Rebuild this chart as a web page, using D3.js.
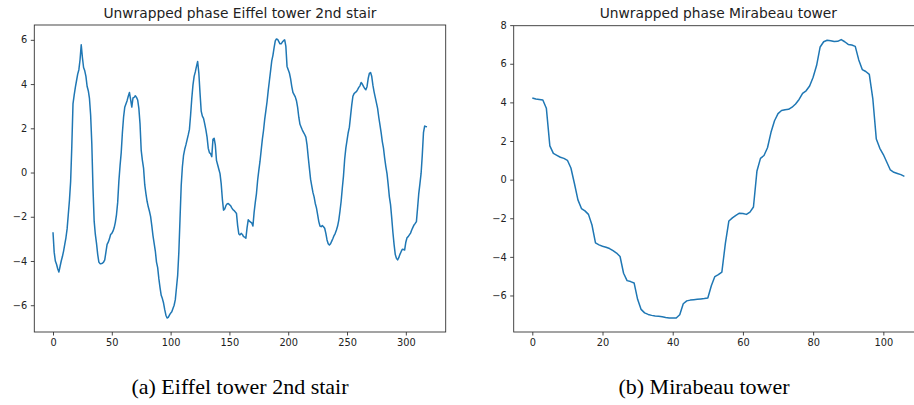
<!DOCTYPE html>
<html>
<head>
<meta charset="utf-8">
<script src="https://cdn.jsdelivr.net/npm/d3@7"></script>
<style>
  html, body { margin: 0; padding: 0; background: #fff; }
  svg { display: block; }
</style>
</head>
<body>
<svg id="fig" width="914" height="405"></svg>
<script>
// Unwrapped phase, Eiffel tower 2nd stair (one value per sample, 0..318)
const eiffelPhase = [
  -2.70, -3.60, -4.00, -4.15, -4.35, -4.50, -4.25, -4.00, -3.80, -3.55,
  -3.25, -2.95, -2.55, -1.90, -1.25, -0.40, 1.20, 3.10, 3.50, 3.85,
  4.15, 4.45, 4.65, 5.10, 5.78, 5.20, 4.75, 4.60, 4.35, 3.90,
  3.70, 3.35, 2.60, 1.30, -0.70, -2.20, -2.80, -3.20, -3.70, -4.05,
  -4.12, -4.12, -4.10, -4.05, -3.95, -3.60, -3.25, -3.15, -3.00, -2.80,
  -2.75, -2.65, -2.50, -2.25, -1.90, -1.35, -0.40, 0.30, 0.90, 1.80,
  2.50, 2.95, 3.10, 3.25, 3.45, 3.62, 3.30, 2.96, 3.37, 3.40,
  3.47, 3.40, 3.28, 2.90, 2.20, 1.00, 0.55, 0.20, -0.55, -0.95,
  -1.30, -1.55, -1.75, -1.99, -2.40, -2.85, -3.20, -3.55, -4.05, -4.30,
  -4.80, -5.20, -5.55, -5.70, -5.90, -6.20, -6.45, -6.58, -6.55, -6.45,
  -6.36, -6.30, -6.15, -6.00, -5.75, -5.20, -4.65, -3.60, -2.10, -0.60,
  0.25, 0.78, 1.05, 1.25, 1.48, 1.70, 1.95, 2.60, 3.35, 3.95,
  4.35, 4.55, 4.80, 5.02, 4.50, 3.60, 2.78, 2.55, 2.45, 2.20,
  1.93, 1.60, 1.10, 0.90, 0.85, 0.72, 1.50, 1.55, 1.25, 0.55,
  0.35, 0.15, -0.05, -0.50, -1.20, -1.70, -1.65, -1.50, -1.42, -1.40,
  -1.45, -1.50, -1.60, -1.68, -1.72, -1.78, -1.85, -2.40, -2.78, -2.82,
  -2.75, -2.80, -2.90, -2.92, -2.97, -2.50, -2.14, -2.20, -2.24, -2.28,
  -2.42, -1.80, -1.35, -0.95, -0.35, 0.10, 0.50, 1.00, 1.50, 1.90,
  2.40, 2.80, 3.20, 3.70, 4.15, 4.60, 5.05, 5.30, 5.65, 5.95,
  6.04, 6.02, 5.92, 5.82, 5.82, 5.90, 5.96, 6.00, 5.70, 4.80,
  4.65, 4.50, 4.25, 3.90, 3.62, 3.52, 3.42, 3.25, 2.95, 2.50,
  2.18, 2.05, 1.92, 1.82, 1.72, 1.60, 1.25, 0.70, 0.20, -0.30,
  -0.60, -0.90, -1.10, -1.40, -1.60, -1.90, -2.22, -2.42, -2.45, -2.40,
  -2.45, -2.52, -2.75, -3.05, -3.22, -3.28, -3.22, -3.10, -2.98, -2.85,
  -2.75, -2.60, -2.42, -2.15, -1.75, -1.30, -0.70, -0.15, 0.60, 1.10,
  1.45, 1.80, 2.05, 2.55, 3.05, 3.45, 3.57, 3.62, 3.66, 3.75,
  3.85, 3.92, 4.07, 4.00, 3.90, 3.80, 3.74, 3.88, 4.25, 4.48,
  4.52, 4.35, 3.95, 3.65, 3.40, 3.15, 2.90, 2.50, 2.15, 1.80,
  1.40, 1.10, 0.65, 0.27, -0.05, -0.55, -1.10, -1.45, -2.05, -2.70,
  -3.25, -3.70, -3.88, -3.95, -3.85, -3.70, -3.58, -3.47, -3.48, -3.50,
  -3.15, -2.95, -2.90, -2.82, -2.74, -2.60, -2.48, -2.37, -2.30, -2.22,
  -1.60, -0.95, -0.50, -0.03, 0.80, 1.80, 2.10, 2.08, 2.07
];

// Unwrapped phase, Mirabeau tower (one value per sample, 0..106)
const mirabeauPhase = [
  4.23, 4.18, 4.15, 4.12, 3.70, 1.75, 1.36, 1.26, 1.16, 1.10,
  1.00, 0.60, -0.20, -1.05, -1.50, -1.62, -1.80, -2.35, -3.28, -3.38,
  -3.45, -3.50, -3.57, -3.68, -3.80, -3.98, -4.85, -5.23, -5.28, -5.35,
  -6.20, -6.72, -6.90, -6.98, -7.03, -7.06, -7.08, -7.10, -7.14, -7.16,
  -7.17, -7.17, -7.00, -6.43, -6.28, -6.24, -6.22, -6.20, -6.18, -6.16,
  -6.13, -5.50, -5.02, -4.92, -4.79, -3.30, -2.14, -1.98, -1.85, -1.74,
  -1.75, -1.80, -1.68, -1.42, 0.45, 1.10, 1.25, 1.65, 2.45, 3.05,
  3.42, 3.58, 3.62, 3.64, 3.75, 3.92, 4.15, 4.47, 4.60, 4.85,
  5.30, 5.92, 6.87, 7.14, 7.22, 7.19, 7.15, 7.16, 7.25, 7.14,
  7.00, 6.97, 6.90, 6.20, 5.70, 5.60, 5.45, 4.20, 2.10, 1.62,
  1.30, 0.90, 0.50, 0.38, 0.32, 0.26, 0.17
];

// Tick values
const eiffelXTicks = [0, 50, 100, 150, 200, 250, 300];
const eiffelYTicks = [-6, -4, -2, 0, 2, 4, 6];
const mirabeauXTicks = [0, 20, 40, 60, 80, 100];
const mirabeauYTicks = [-6, -4, -2, 0, 2, 4, 6, 8];

// Titles and captions
const titles = ["Unwrapped phase Eiffel tower 2nd stair", "Unwrapped phase Mirabeau tower"];
const captions = ["(a) Eiffel tower 2nd stair", "(b) Mirabeau tower"];

const svg = d3.select("#fig");
const LINE = "#1f77b4";
const SANS = "'DejaVu Sans', sans-serif";

// Domain padded by 5% on each side, as in a default matplotlib autoscale
function padded(ext) {
  const m = (ext[1] - ext[0]) * 0.05;
  return [ext[0] - m, ext[1] + m];
}

function panel(opts) {
  const { left, top, width, height, values, xTicks, yTicks, title, caption, captionX } = opts;
  const g = svg.append("g");
  const x = d3.scaleLinear().domain(padded([0, values.length - 1])).range([left, left + width]);
  const y = d3.scaleLinear().domain(padded(d3.extent(values))).range([top + height, top]);

  const fmt = d => (d < 0 ? "\u2212" + Math.abs(d) : String(d));

  const xAxis = g.append("g")
    .attr("transform", `translate(0,${top + height})`)
    .call(d3.axisBottom(x).tickValues(xTicks).tickSize(3.5).tickPadding(3.5).tickSizeOuter(0).tickFormat(fmt));
  const yAxis = g.append("g")
    .attr("transform", `translate(${left},0)`)
    .call(d3.axisLeft(y).tickValues(yTicks).tickSize(3.5).tickPadding(3.5).tickSizeOuter(0).tickFormat(fmt));

  [xAxis, yAxis].forEach(a => {
    a.select(".domain").remove();
    a.selectAll(".tick line").attr("stroke", "#333").attr("stroke-width", 0.9);
    a.selectAll(".tick text").attr("fill", "#222").style("font-family", SANS).style("font-size", "9.8px");
  });

  // series line
  const clipId = "clip" + Math.round(left);
  svg.append("clipPath").attr("id", clipId)
    .append("rect").attr("x", left).attr("y", top).attr("width", width).attr("height", height);
  g.append("path")
    .datum(values)
    .attr("clip-path", `url(#${clipId})`)
    .attr("fill", "none")
    .attr("stroke", LINE)
    .attr("stroke-width", 1.5)
    .attr("stroke-linejoin", "round")
    .attr("d", d3.line().x((d, i) => x(i)).y(d => y(d)));

  // axes frame
  g.append("rect")
    .attr("x", left).attr("y", top).attr("width", width).attr("height", height)
    .attr("fill", "none").attr("stroke", "#333").attr("stroke-width", 0.9);

  g.append("text")
    .attr("x", left + width / 2).attr("y", top - 7.5)
    .attr("text-anchor", "middle")
    .attr("fill", "#222")
    .style("font-family", SANS).style("font-size", "13.8px")
    .text(title);

  g.append("text")
    .attr("x", captionX).attr("y", 394)
    .attr("text-anchor", "middle")
    .attr("fill", "#000")
    .style("font-family", "'Liberation Serif', 'Times New Roman', serif").style("font-size", "22px")
    .text(caption);
}

panel({
  left: 34.3, top: 25, width: 411.4, height: 307,
  values: eiffelPhase, xTicks: eiffelXTicks, yTicks: eiffelYTicks,
  title: titles[0], caption: captions[0], captionX: 240
});

panel({
  left: 513.7, top: 25.7, width: 409.3, height: 306.3,
  values: mirabeauPhase, xTicks: mirabeauXTicks, yTicks: mirabeauYTicks,
  title: titles[1], caption: captions[1], captionX: 704
});
</script>
</body>
</html>
